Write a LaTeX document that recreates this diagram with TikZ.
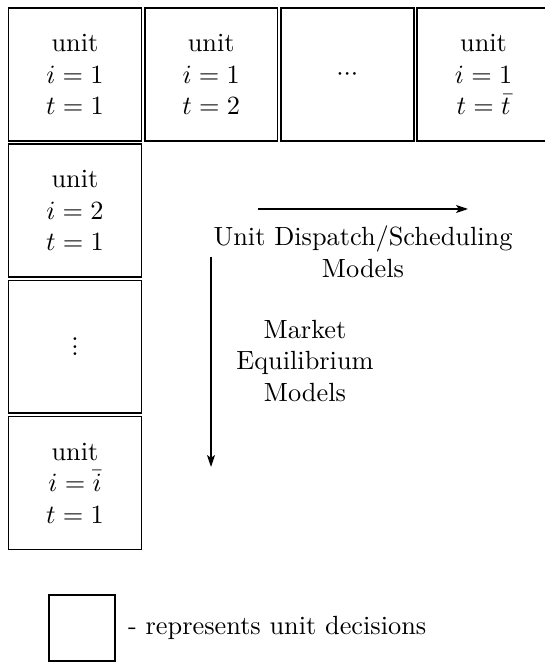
\documentclass[tikz,border=0pt]{standalone}
\usepackage{amsmath}
\usepackage{amssymb}
\usepackage{tikz}
\usetikzlibrary{arrows.meta, positioning}

% tight dots for the "more units" boxes
\newcommand{\rowdots}{${\cdot}{\cdot}{\cdot}$}
\newcommand{\coldots}{\vbox{\baselineskip=2.8pt\lineskiplimit=0pt\hbox{.}\hbox{.}\hbox{.}}}

\begin{document}
\begin{tikzpicture}[x=0.38pt, y=-0.38pt,
		unitbox/.style={draw, line width=0.65pt, minimum size=50.5pt, inner sep=0pt, align=center},
		flow/.style={-{Stealth[length=4.5pt, width=3pt, inset=1pt]}, line width=0.6pt},
		lbl/.style={align=center}]
	\useasboundingbox (0,0) rectangle (544,662);

	% Top row: units over time
	\node[unitbox] (u11) at (75,74.5) {unit\\$i=1$\\$t=1$};
	\node[unitbox, right=0.6pt of u11] (u12) {unit\\$i=1$\\$t=2$};
	\node[unitbox, right=0.6pt of u12] (u1d) {\rowdots};
	\node[unitbox, right=0.6pt of u1d] (u1T) {unit\\$i=1$\\$t=\bar{t}$};

	% Left column: units over index
	\node[unitbox, below=0.6pt of u11] (u21) {unit\\$i=2$\\$t=1$};
	\node[unitbox, below=0.6pt of u21] (ud1) {\coldots};
	\node[unitbox, below=0.6pt of ud1] (uI1) {unit\\$i=\bar{i}$\\$t=1$};

	% Horizontal direction
	\coordinate (h0) at (258,209);
	\coordinate (h1) at (468,209);
	\draw[flow] (h0) -- (h1);
	\node[lbl] (dispatch) at (363,252) {Unit Dispatch/Scheduling\\Models};

	% Vertical direction
	\coordinate (v0) at (211,257);
	\coordinate (v1) at (211,467);
	\draw[flow] (v0) -- (v1);
	\node[lbl] (market) at (305,361) {Market\\Equilibrium\\Models};

	% Legend
	\node[draw, line width=0.65pt, minimum size=25pt, inner sep=0pt] (key) at (82,628) {};
	\node[right=4.5pt of key, inner sep=0pt] (keytext) {- represents unit decisions};
\end{tikzpicture}
\end{document}
